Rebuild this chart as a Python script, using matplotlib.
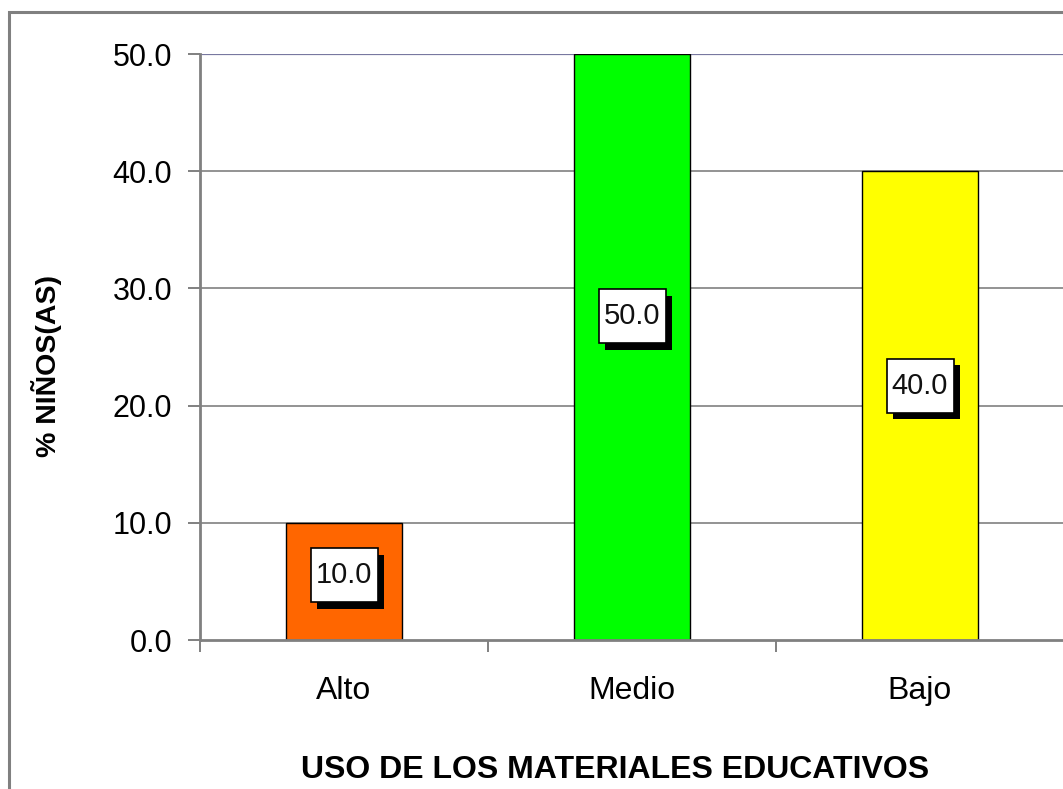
import matplotlib.pyplot as plt
from matplotlib.patches import Rectangle
from matplotlib.transforms import ScaledTranslation

# Datos del grafico
categorias = ['Alto', 'Medio', 'Bajo']
porcentajes = [10.0, 50.0, 40.0]
colores = ['#FF6600', '#00FF00', '#FFFF00']
y_ticks = [0, 10, 20, 30, 40, 50]

# desplazamiento vertical (px) de cada etiqueta sobre el centro de la barra
label_shift = [6, 31, 20]

plt.rcParams['font.family'] = ['Liberation Sans', 'DejaVu Sans']

fig = plt.figure(figsize=(10.63, 7.89), dpi=100)
ax = fig.add_axes([200 / 1063, 1 - 640 / 789, 864 / 1063, 586 / 789])

# marco exterior del grafico
fig.patches.append(Rectangle((9 / 1063, -0.05), 1.1, 1 - 12 / 789 + 0.05,
                             transform=fig.transFigure, fill=False,
                             edgecolor='#808080', linewidth=2.2, zorder=0))

x = list(range(len(categorias)))
ax.bar(x, porcentajes, width=0.4, color=colores, edgecolor='black',
       linewidth=1.0, zorder=3)

ax.set_xlim(-0.5, 2.5)
ax.set_ylim(0, 50)
ax.set_yticks(y_ticks)
ax.set_yticklabels([f"{v:.1f}" for v in y_ticks])
ax.set_xticks(x)
ax.set_xticklabels(categorias)
ax.set_xticks([-0.5, 0.5, 1.5, 2.5], minor=True)

ax.tick_params(axis='y', length=8.6, width=1.4, color='#808080',
               labelsize=22, pad=11.5)
ax.tick_params(axis='x', which='major', length=0, labelsize=23, pad=26)
ax.tick_params(axis='x', which='minor', length=8.6, width=1.4, color='#808080')

# lineas de division
for v in y_ticks[1:-1]:
    ax.axhline(v, color='#808080', linewidth=1.2, zorder=1)
ax.axhline(50, color='#7878a0', linewidth=1.6, zorder=1)

for side in ['top', 'right']:
    ax.spines[side].set_visible(False)
for side in ['left', 'bottom']:
    ax.spines[side].set_color('#808080')
    ax.spines[side].set_linewidth(2.0)
    ax.spines[side].set_zorder(4)

# etiquetas de valor con sombra (caja dibujada en pulgadas alrededor del punto)
bw, bh, off = 0.67, 0.54, 0.065
for xi, v, sh in zip(x, porcentajes, label_shift):
    anchor = fig.dpi_scale_trans + ScaledTranslation(xi, v / 2, ax.transData)
    yc = sh / 100
    ax.add_patch(Rectangle((-bw / 2 + off, yc - bh / 2 - off), bw, bh,
                           transform=anchor, facecolor='black',
                           edgecolor='none', zorder=5, clip_on=False))
    ax.add_patch(Rectangle((-bw / 2, yc - bh / 2), bw, bh,
                           transform=anchor, facecolor='white',
                           edgecolor='black', linewidth=1.2, zorder=6,
                           clip_on=False))
    ax.text(0, yc, f"{v:.1f}", transform=anchor, ha='center', va='center',
            fontsize=21, color='#111111', zorder=7)

ax.set_ylabel('% NIÑOS(AS)', fontsize=20.5, fontweight='bold', va='center')
ax.yaxis.set_label_coords((47 - 200) / 864, (640 - 366) / 586)
ax.set_xlabel('USO DE LOS MATERIALES EDUCATIVOS', fontsize=23,
              fontweight='bold', va='center')
ax.xaxis.set_label_coords((615 - 200) / 864, (640 - 770) / 586)

fig.savefig('out.png', dpi=100)
